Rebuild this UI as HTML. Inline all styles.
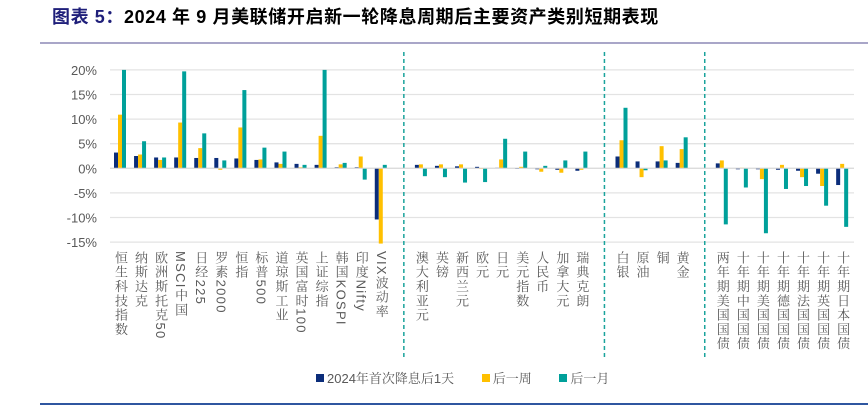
<!DOCTYPE html>
<html><head><meta charset="utf-8">
<style>
body{margin:0;width:868px;height:407px;background:#fff;overflow:hidden;font-family:"Liberation Sans","Noto Sans CJK SC",sans-serif;position:relative}
#title{position:absolute;left:52px;top:3px;font-size:18px;letter-spacing:0.6px;font-weight:bold;color:#000;white-space:nowrap;font-family:"Liberation Sans","Noto Sans CJK SC",sans-serif}
#title span{color:#1f1f7a}
.lab{position:absolute;top:251px;writing-mode:vertical-rl;font-size:13px;color:#595959;letter-spacing:1.3px;line-height:14px;white-space:nowrap;font-family:"Liberation Sans","Noto Serif CJK SC",serif}
#legend{position:absolute;top:368px;left:316px;font-size:13px;color:#595959;white-space:nowrap;font-family:"Liberation Sans","Noto Serif CJK SC",sans-serif}
#legend i{display:inline-block;width:8px;height:8px;margin-right:3px;vertical-align:1px}
</style></head><body>
<div id="title"><span>图表 5：</span>2024 年 9 月美联储开启新一轮降息周期后主要资产类别短期表现</div>
<svg id="chart" width="868" height="407" style="position:absolute;left:0;top:0"></svg>
<div id="labels"></div>
<div id="legend">
<span><i style="background:#0b2d7a"></i>2024年首次降息后1天</span>
<span style="margin-left:24px"><i style="background:#ffc000"></i>后一周</span>
<span style="margin-left:24px"><i style="background:#00a09a"></i>后一月</span>
</div>
<script>
const categories=["恒生科技指数","纳斯达克","欧洲斯托克50","MSCI中国","日经225","罗素2000","恒指","标普500","道琼斯工业","英国富时100","上证综指","韩国KOSPI","印度Nifty","VIX波动率",null,
"澳大利亚元","英镑","新西兰元","欧元","日元","美元指数","人民币","加拿大元","瑞典克朗",null,
"白银","原油","铜","黄金",null,
"两年期美国国债","十年期中国国债","十年期美国国债","十年期德国国债","十年期法国国债","十年期英国国债","十年期日本国债"];
const day1=[3.2,2.5,2.2,2.2,2.1,2.1,2.0,1.7,1.2,0.9,0.7,0.2,0.2,-10.4,null,
0.7,0.5,0.4,0.3,0.1,0,-0.2,-0.3,-0.5,null,
2.4,1.4,1.4,1.1,null,
1.0,-0.2,-0.2,-0.3,-0.5,-1.1,-3.4];
const week1=[10.9,2.8,1.7,9.3,4.1,-0.3,8.3,1.8,0.9,0.2,6.6,0.8,2.4,-15.3,null,
0.8,0.8,0.8,0,1.8,0.3,-0.7,-0.9,-0.3,null,
5.7,-1.8,4.5,3.9,null,
1.6,0.1,-2.2,0.7,-1.8,-3.6,0.9];
const month1=[20,5.5,2.2,19.7,7.1,1.6,15.9,4.2,3.4,0.7,20,1.1,-2.3,0.7,null,
-1.6,-1.8,-2.9,-2.8,6.0,3.4,0.5,1.6,3.4,null,
12.3,-0.4,1.6,6.3,null,
-11.4,-3.9,-13.2,-4.2,-3.6,-7.6,-11.9];
const ticks=[20,15,10,5,0,-5,-10,-15];
const tickLabels=["20%","15%","10%","5%","0%","-5%","-10%","-15%"];

const svg=document.getElementById('chart');
const NS='http://www.w3.org/2000/svg';
const y=v=>168.3-v*4.92;
const x=i=>120+i*20.06;
function mk(tag,attrs){const e=document.createElementNS(NS,tag);for(const k in attrs)e.setAttribute(k,attrs[k]);svg.appendChild(e);return e;}
let l=mk('line',{x1:40,x2:868,y1:43,y2:43,stroke:'#a9a6c8','stroke-width':2});


l=mk('line',{x1:40,x2:868,y1:404,y2:404,stroke:'#2f56a0','stroke-width':2});


ticks.forEach((t,k)=>{
  const g=mk('line',{x1:110,x2:854,y1:y(t),y2:y(t),stroke:'#e3e3e3','stroke-width':1.3});
  
  
  const tx=mk('text',{x:97,y:y(t)+5,'text-anchor':'end','font-size':13,fill:'#595959','font-family':'Liberation Sans, sans-serif'});
  tx.textContent=tickLabels[k];
  
  
});
const series=[[day1,'#0b2d7a',-6],[week1,'#ffc000',-2],[month1,'#00a09a',2]];
const labDiv=document.getElementById('labels');
categories.forEach((c,i)=>{
  if(c===null){
    const d=mk('line',{x1:x(i)+3,x2:x(i)+3,y1:52,y2:358,stroke:'#1aa39c','stroke-width':1.5,'stroke-dasharray':'4,3'});
    
    
    return;
  }
  series.forEach(([arr,col,off])=>{
    const v=arr[i];const y0=y(0),y1=y(v);
    const r=mk('rect',{x:x(i)+off,width:4,y:Math.min(y0,y1),height:Math.max(Math.abs(y1-y0),0.6),fill:col});
    
    
  });
  const d=document.createElement('div');
  d.className='lab';d.textContent=c;
  d.style.left=(x(i)-7)+'px';
  
  
  labDiv.appendChild(d);
});
const z=mk('line',{x1:110,x2:854,y1:y(0),y2:y(0),stroke:'#d9d9d9','stroke-width':1});


</script>
</body></html>
